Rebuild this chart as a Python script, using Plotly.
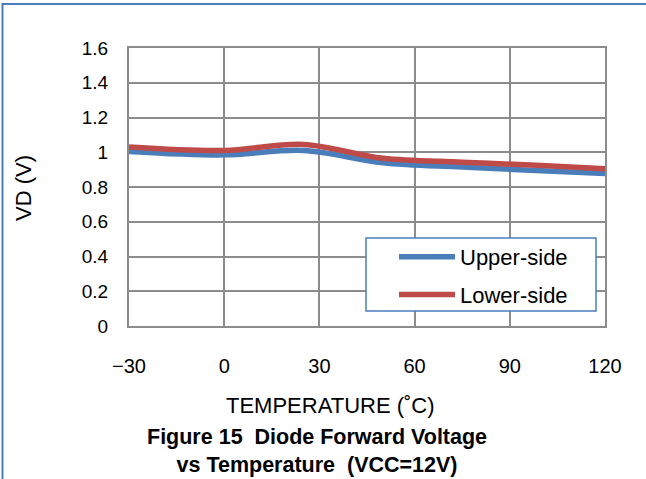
import plotly.graph_objects as go

# donnees
temp = [-30, 0, 25, 50, 75, 100, 120]
upper = [1.005, 0.985, 1.01, 0.94, 0.915, 0.893, 0.877]
lower = [1.03, 1.01, 1.045, 0.965, 0.943, 0.924, 0.905]

x_ticks = [-30, 0, 30, 60, 90, 120]
x_tick_text = ["\u221230", "0", "30", "60", "90", "120"]
y_ticks = [0, 0.2, 0.4, 0.6, 0.8, 1, 1.2, 1.4, 1.6]
y_tick_text = ["0", "0.2", "0.4", "0.6", "0.8", "1", "1.2", "1.4", "1.6"]

BLUE = "#4a7ebb"
RED = "#be4b48"
GRID = "#8c8c8c"
SANS = "Liberation Sans, Arial, sans-serif"

# zone de trace en pixels (pour placer les textes)
L, R, T, B = 129, 605, 48, 326


def px_x(x):
    return (x - L) / (R - L)


def px_y(y):
    return (B - y) / (B - T)


fig = go.Figure()
fig.add_trace(go.Scatter(x=temp, y=upper, name="Upper-side", mode="lines",
                         legendgroup="u",
                         line=dict(color=BLUE, width=5.5, shape="spline")))
fig.add_trace(go.Scatter(x=temp, y=lower, name="Lower-side", mode="lines",
                         legendgroup="l",
                         line=dict(color=RED, width=5.5, shape="spline")))

fig.update_layout(
    width=646, height=479,
    paper_bgcolor="white", plot_bgcolor="white",
    margin=dict(l=L, r=646 - R, t=T, b=479 - B),
    font=dict(family=SANS, size=19, color="black"),
    showlegend=True,
    legend=dict(x=px_x(394), y=px_y(236), xanchor="left", yanchor="top",
                borderwidth=0, bgcolor="rgba(0,0,0,0)",
                tracegroupgap=6, itemwidth=56,
                font=dict(size=22, family=SANS)),
)
fig.update_xaxes(range=[-30, 120], tickvals=x_ticks, ticktext=x_tick_text,
                 showgrid=True, gridcolor=GRID, gridwidth=1.5,
                 showline=True, linecolor=GRID, linewidth=2, mirror=True,
                 zeroline=False, ticks="outside", ticklen=21,
                 tickcolor="rgba(0,0,0,0)",
                 tickfont=dict(size=20))
fig.update_yaxes(range=[0, 1.6], tickvals=y_ticks, ticktext=y_tick_text,
                 showgrid=True, gridcolor=GRID, gridwidth=1.5,
                 showline=True, linecolor=GRID, linewidth=2, mirror=True,
                 zeroline=False, ticks="outside", ticklen=15,
                 tickcolor="rgba(0,0,0,0)",
                 tickfont=dict(size=19))

# cadre de la legende (blanc, bord bleu)
fig.add_shape(type="rect", xref="paper", yref="paper",
              x0=px_x(366), x1=px_x(596), y0=px_y(311), y1=px_y(238),
              fillcolor="white", line=dict(color=BLUE, width=1.5),
              layer="above")

# titres et legende de figure
fig.add_annotation(text="VD (V)", xref="paper", yref="paper",
                   x=px_x(23), y=px_y(188), xanchor="center",
                   yanchor="middle", textangle=-90, showarrow=False,
                   font=dict(size=22))
fig.add_annotation(text="TEMPERATURE (\u02daC)", xref="paper", yref="paper",
                   x=px_x(330), y=px_y(405), xanchor="center",
                   yanchor="middle", showarrow=False, font=dict(size=22))
fig.add_annotation(text="<b>Figure 15\u00a0 Diode Forward Voltage<br>"
                        "vs Temperature\u00a0 (VCC=12V)</b>",
                   xref="paper", yref="paper",
                   x=px_x(317), y=px_y(451), xanchor="center",
                   yanchor="middle", showarrow=False, font=dict(size=21.5))

# cadre bleu autour de la figure
fig.add_shape(type="rect", xref="paper", yref="paper",
              x0=px_x(2.5), x1=px_x(660),
              y0=px_y(490), y1=px_y(4),
              line=dict(color=BLUE, width=2), layer="below")

fig.write_html("out.html", config={"displayModeBar": False},
               post_script="document.body.style.margin='0';")
